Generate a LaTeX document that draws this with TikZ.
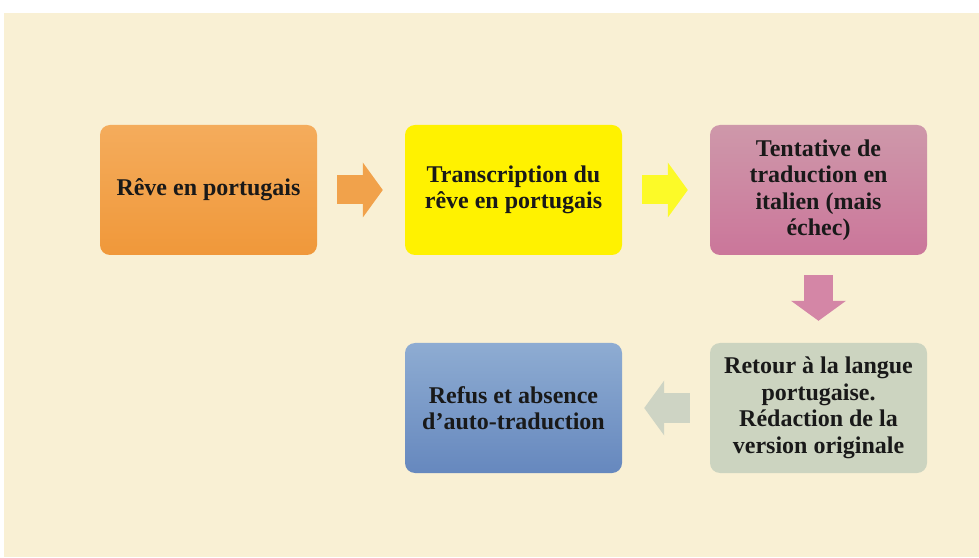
\documentclass[tikz,border=0pt]{standalone}
\usepackage{fontspec}
\setmainfont{Liberation Serif}
\usetikzlibrary{arrows.meta,positioning}

\definecolor{cream}{RGB}{249,240,212}
\definecolor{orangetop}{RGB}{244,172,92}
\definecolor{orangebot}{RGB}{240,152,58}
\definecolor{pinktop}{RGB}{206,152,170}
\definecolor{pinkbot}{RGB}{203,118,154}
\definecolor{bluetop}{RGB}{142,172,210}
\definecolor{bluebot}{RGB}{102,136,190}
\definecolor{sage}{RGB}{204,212,192}
\definecolor{flowyellow}{RGB}{252,250,40}
\definecolor{floworange}{RGB}{241,162,75}
\definecolor{flowpink}{RGB}{212,134,166}
\definecolor{flowsage}{RGB}{206,212,196}

\begin{document}
\begin{tikzpicture}[x=1pt,y=1pt,node distance=218pt and 305pt,on grid,
  box/.style={rounded corners=10pt, minimum width=217pt, minimum height=130pt,
    align=center, text=black!90, font=\fontsize{24}{26.5}\selectfont\bfseries},
  flow/.style={line width=29pt, -{Triangle[width=54pt,length=20pt]},
    shorten <=20pt, shorten >=22pt}]
	\useasboundingbox (0,0) rectangle (979,557);
	\fill[cream] (4,0) rectangle (979,544);

	\node[box, top color=orangetop, bottom color=orangebot] at (208.5,367) (reve) {Rêve en portugais};
	\node[box, fill=yellow, right = of reve] (transcription) {Transcription du\\rêve en portugais};
	\node[box, top color=pinktop, bottom color=pinkbot, right = of transcription] (tentative) {Tentative de\\traduction en\\italien (mais\\échec)};
	\node[box, fill=sage, below = of tentative] (retour) {Retour à la langue\\portugaise.\\Rédaction de la\\version originale};
	\node[box, top color=bluetop, bottom color=bluebot, left = of retour] (refus) {Refus et absence\\d’auto-traduction};

	\draw[flow, floworange] (reve) -- (transcription);
	\draw[flow, flowyellow] (transcription) -- (tentative);
	\draw[flow, flowpink] (tentative) -- (retour);
	\draw[flow, flowsage] (retour) -- (refus);
\end{tikzpicture}
\end{document}
